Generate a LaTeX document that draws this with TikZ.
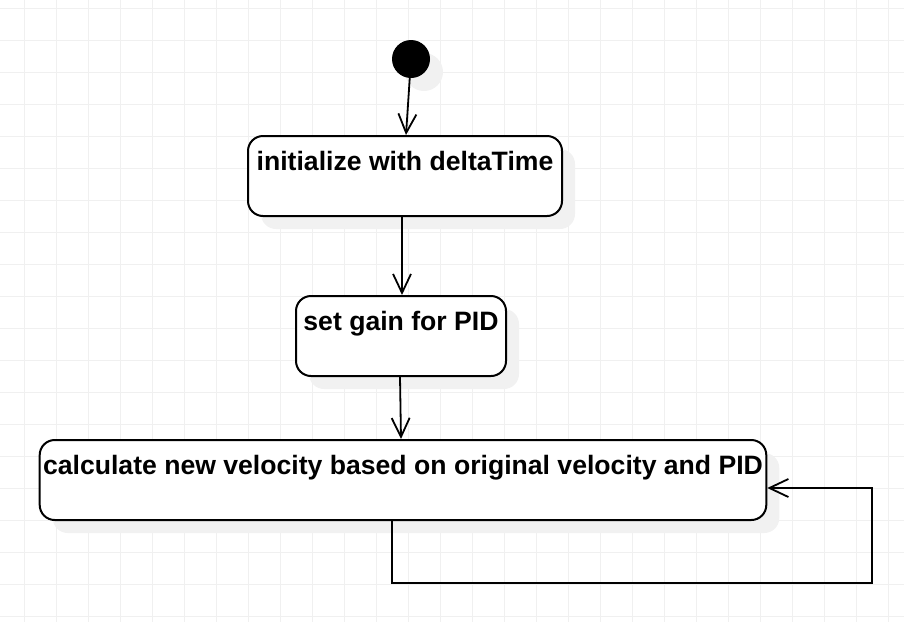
\documentclass[tikz,border=0pt]{standalone}
\usepackage{fontspec}
\setmainfont{Liberation Sans}
\usetikzlibrary{arrows.meta,positioning,shadows}
\definecolor{gridgray}{HTML}{F0F0F0}
\definecolor{shadegray}{HTML}{F1F1F1}

\begin{document}
\begin{tikzpicture}[x=1pt,y=-1pt,
	activity/.style={draw,line width=2pt,rounded corners=15pt,fill=white,
		minimum height=80pt,inner ysep=0pt,text height=34.5pt,text depth=45.5pt,
		font=\fontsize{26.6}{30}\selectfont\bfseries,
		general shadow={fill=shadegray,shadow xshift=13pt,shadow yshift=-13pt}},
	startdot/.style={circle,fill=black,minimum size=38pt,inner sep=0pt,
		general shadow={fill=shadegray,shadow xshift=13pt,shadow yshift=-13pt}},
	flow/.style={line width=1.8pt,-{Straight Barb[length=19pt,width=18pt]}}]
	\useasboundingbox (0,0) rectangle (904,622);

	% background grid
	\foreach \gx in {0,...,27}
		\draw[gridgray,line width=1pt] ({24.3+32*\gx},0) -- ++(0,622);
	\foreach \gy in {0,...,19}
		\draw[gridgray,line width=1pt] (0,{8.3+32*\gy}) -- ++(904,0);

	\node[startdot] (start) at (411,59) {};
	\node[activity,minimum width=314pt] (init) at (405,176) {initialize with deltaTime};
	\node[activity,minimum width=210pt] (gain) at (401,336) {set gain for PID};
	\node[activity,minimum width=726pt] (calc) at (403,480) {calculate new velocity based on original velocity and PID};
	\coordinate (loopturn) at (872,583);


	\path[flow]

	(start) edge ([xshift=1pt]init.north)

	([xshift=-3pt]init.south) edge ([xshift=1pt]gain.north)

	([xshift=-1pt]gain.south) edge ([xshift=-2pt]calc.north);

	\draw[flow] ([xshift=-11pt]calc.south) |- (loopturn) |- ([yshift=-8pt]calc.east);

\end{tikzpicture}
\end{document}
